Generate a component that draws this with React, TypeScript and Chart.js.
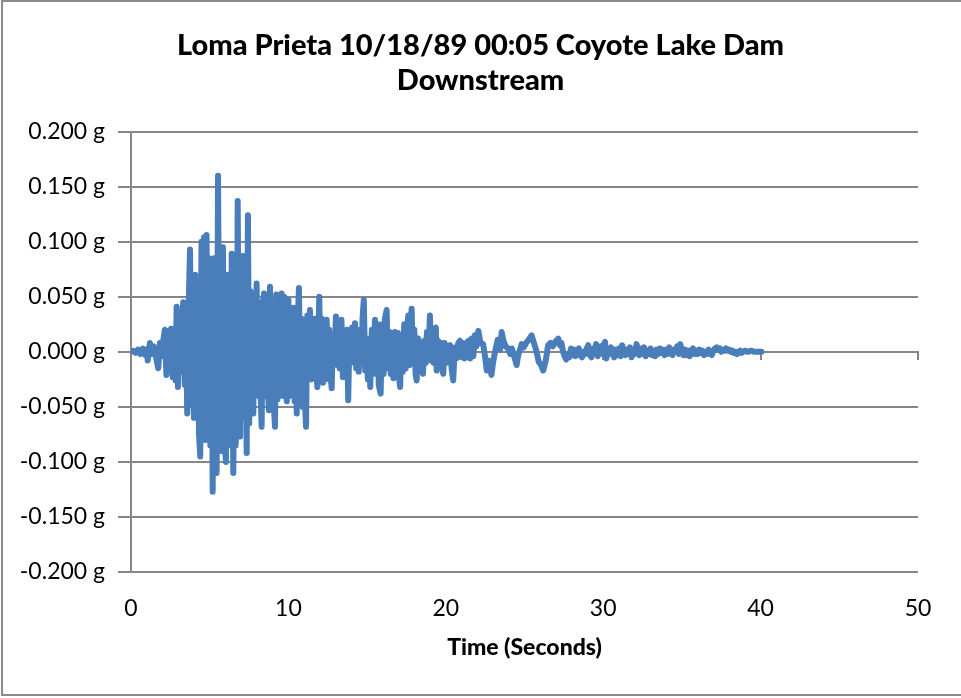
import React, { useEffect, useRef } from "react";
import { Chart, registerables } from "chart.js";

Chart.register(...registerables);

const titleLines = ["Loma Prieta 10/18/89 00:05 Coyote Lake Dam", "Downstream"];
const xAxisTitle = "Time (Seconds)";
const xTicks = [0, 10, 20, 30, 40, 50];
const yTicks = [-0.2, -0.15, -0.1, -0.05, 0, 0.05, 0.1, 0.15, 0.2];

// time (s)
const timeSec = [
  0, 0.15, 0.3, 0.45, 0.6, 0.75, 0.9,
  1.0, 1.06, 1.2, 1.32, 1.45, 1.58, 1.73, 1.84, 1.95,
  2.05, 2.15, 2.25, 2.35, 2.45, 2.55, 2.65, 2.75, 2.83, 2.9, 2.98,
  3.08, 3.18, 3.25, 3.32, 3.42, 3.5, 3.57, 3.66, 3.75, 3.84, 3.92,
  4.0, 4.08, 4.16, 4.24, 4.32, 4.4, 4.48, 4.56, 4.64, 4.72, 4.8, 4.88, 4.96,
  5.04, 5.12, 5.19, 5.27, 5.35, 5.44, 5.53, 5.62, 5.7, 5.77, 5.84, 5.92,
  6.03, 6.11, 6.19, 6.27, 6.34, 6.4, 6.5, 6.58, 6.65, 6.72, 6.78, 6.86, 6.93,
  7.01, 7.1, 7.18, 7.27, 7.35, 7.43, 7.51, 7.59, 7.67, 7.77, 7.85, 7.92, 7.98,
  8.06, 8.14, 8.22, 8.3, 8.38, 8.45, 8.53, 8.61, 8.69, 8.76, 8.83, 8.91, 8.98,
  9.06, 9.15, 9.23, 9.31, 9.39, 9.47, 9.57, 9.65, 9.73, 9.81, 9.9,
  10.0, 10.08, 10.16, 10.24, 10.32, 10.4, 10.47, 10.53, 10.6, 10.67, 10.75, 10.83, 10.91, 10.98,
  11.05, 11.12, 11.2, 11.28, 11.37, 11.45, 11.53, 11.61, 11.69, 11.77, 11.84, 11.96,
  12.04, 12.12, 12.2, 12.28, 12.36, 12.43, 12.51, 12.59, 12.67, 12.75, 12.83, 12.91,
  13.02, 13.1, 13.18, 13.26, 13.37, 13.46, 13.55, 13.63, 13.72, 13.8, 13.88, 13.96,
  14.05, 14.14, 14.23, 14.31, 14.39, 14.47, 14.55, 14.63, 14.71, 14.79, 14.88, 14.96,
  15.05, 15.13, 15.2, 15.3, 15.4, 15.5, 15.58, 15.66, 15.74, 15.86, 15.95,
  16.05, 16.13, 16.24, 16.33, 16.42, 16.5, 16.58, 16.67, 16.76, 16.84, 16.96,
  17.04, 17.1, 17.18, 17.27, 17.36, 17.45, 17.53, 17.62, 17.7, 17.76, 17.83, 17.92,
  18.0, 18.08, 18.15, 18.24, 18.32, 18.4, 18.48, 18.55, 18.63, 18.72, 18.8, 18.9, 18.99,
  19.08, 19.16, 19.24, 19.3, 19.37, 19.42, 19.5, 19.6, 19.7, 19.78, 19.84, 19.93,
  20.05, 20.15, 20.27, 20.37, 20.47, 20.57, 20.68, 20.79, 20.9,
  21.0, 21.1, 21.2, 21.3, 21.43, 21.55, 21.65, 21.75, 21.85, 21.95,
  22.07, 22.2, 22.37, 22.5, 22.6, 22.72, 22.9,
  23.0, 23.13, 23.3, 23.45, 23.55, 23.66, 23.8, 23.95,
  24.1, 24.2, 24.3, 24.5, 24.6, 24.72, 24.82, 24.95,
  25.1, 25.27, 25.45, 25.6, 25.77, 25.9,
  26.05, 26.19, 26.35, 26.5, 26.65, 26.8, 26.95,
  27.15, 27.25, 27.35, 27.45, 27.55, 27.65, 27.75, 27.85, 27.95,
  28.05, 28.15, 28.25, 28.35, 28.45, 28.55, 28.65, 28.75, 28.85, 28.95,
  29.05, 29.15, 29.25, 29.35, 29.45, 29.55, 29.65, 29.75, 29.85, 29.95,
  30.05, 30.12, 30.2, 30.3, 30.4, 30.5, 30.6, 30.7, 30.8, 30.9,
  31.0, 31.1, 31.2, 31.3, 31.4, 31.5, 31.6, 31.7, 31.8, 31.9,
  32.0, 32.12, 32.2, 32.3, 32.4, 32.5, 32.6, 32.7, 32.8, 32.9,
  33.0, 33.1, 33.2, 33.3, 33.4, 33.5, 33.6, 33.7, 33.8, 33.9,
  34.0, 34.1, 34.2, 34.3, 34.4, 34.5, 34.6, 34.7, 34.8, 34.9,
  35.0, 35.1, 35.2, 35.3, 35.4, 35.5, 35.6, 35.7, 35.8, 35.9,
  36.0, 36.1, 36.2, 36.3, 36.4, 36.5, 36.6, 36.7, 36.8, 36.9,
  37.0, 37.1, 37.2, 37.3, 37.4, 37.5, 37.6, 37.7, 37.8, 37.9,
  38.0, 38.1, 38.2, 38.3, 38.4, 38.5, 38.6, 38.7, 38.8, 38.9,
  39.0, 39.2, 39.4, 39.6, 39.8, 40.05,
];

// acceleration (g)
const accelG = [
  0, 0.001, -0.001, 0.002, -0.002, 0.003, -0.003,
  0.002, -0.008, 0.008, -0.002, 0.005, -0.004, -0.015, 0.008, -0.004,
  0.010, 0.020, -0.021, 0.019, -0.015, 0.021, -0.023, 0.012, -0.026, 0.041, -0.032,
  0.030, -0.018, 0.028, 0.045, -0.030, 0.025, -0.056, 0.040, 0.093, -0.048, 0.045,
  -0.060, 0.070, -0.040, 0.062, -0.075, -0.095, 0.100, -0.060, 0.104, -0.080, 0.106, -0.070, 0.085,
  -0.085, 0.070, -0.127, 0.085, -0.060, -0.110, 0.160, -0.065, 0.080, -0.090, 0.095, -0.070,
  -0.100, 0.070, -0.085, 0.060, -0.070, 0.089, -0.110, 0.065, -0.085, -0.040, 0.137, -0.060, -0.077,
  0.060, 0.087, -0.060, 0.050, -0.092, 0.124, -0.065, 0.055, -0.045, -0.056, 0.040, -0.030, 0.062,
  -0.040, 0.045, -0.030, -0.068, 0.040, 0.053, -0.040, 0.035, -0.030, -0.053, 0.059, -0.040, 0.030,
  -0.045, -0.068, 0.052, -0.043, 0.040, -0.035, 0.053, -0.040, 0.050, -0.030, -0.045,
  0.047, -0.040, 0.035, -0.030, 0.040, -0.045, 0.020, -0.056, 0.030, 0.058, -0.040, 0.030, -0.050, 0.025,
  -0.045, -0.068, 0.033, -0.020, 0.038, -0.025, 0.025, -0.020, 0.030, -0.015, -0.032, 0.050,
  -0.020, 0.030, -0.028, 0.015, -0.025, 0.029, -0.015, 0.020, -0.020, -0.033, 0.015, -0.010,
  0.032, -0.012, 0.022, -0.015, 0.029, -0.023, 0.015, -0.018, 0.020, -0.044, 0.015, -0.010,
  0.022, -0.008, 0.026, -0.015, 0.020, -0.018, 0.015, -0.010, 0.030, 0.047, -0.017, 0.012,
  -0.025, 0.010, -0.032, 0.020, -0.020, 0.029, -0.015, 0.025, -0.030, -0.038, 0.025,
  -0.020, 0.030, 0.038, -0.015, 0.018, -0.020, 0.012, -0.024, 0.018, -0.015, 0.017,
  -0.025, -0.032, 0.015, -0.018, 0.025, -0.015, 0.020, 0.033, -0.012, 0.025, 0.039, -0.010,
  0.020, -0.020, -0.026, 0.012, -0.012, 0.008, -0.015, -0.020, 0.010, -0.010, 0.018, -0.005, 0.033,
  -0.008, 0.020, -0.010, 0.015, 0.022, -0.017, 0.010, -0.012, 0.008, -0.015, -0.020, 0.008,
  -0.010, 0.005, 0.006, -0.015, -0.026, 0.004, -0.006, 0.008, 0.010,
  -0.005, 0.008, -0.006, 0.006, 0.010, -0.006, 0.012, -0.004, 0.015, 0.005,
  0.019, 0.008, 0.007, -0.005, -0.017, -0.008, -0.021,
  -0.010, 0.000, 0.011, 0.002, 0.018, 0.010, 0.005, 0.003,
  -0.002, 0.003, -0.002, -0.012, -0.003, 0.002, 0.007, 0.004,
  0.008, 0.011, 0.015, 0.008, 0.000, -0.009,
  -0.012, -0.017, -0.008, 0.006, 0.008, 0.005, 0.009,
  0.012, 0.006, 0.008, 0.000, -0.004, -0.007, -0.002, -0.005, 0.003,
  -0.003, 0.002, -0.004, 0.001, 0.003, -0.003, -0.005, 0.000, -0.002, 0.003,
  0.006, -0.003, -0.005, 0.003, 0.001, 0.007, -0.004, 0.002, 0.005, -0.002,
  0.007, 0.009, -0.006, 0.002, -0.002, 0.004, 0.000, -0.005, 0.002, -0.003,
  0.003, -0.004, 0.006, 0.001, -0.003, 0.002, -0.002, 0.004, -0.005, 0.001,
  -0.002, 0.007, 0.002, -0.003, 0.003, -0.002, 0.004, -0.004, 0.001, -0.002,
  0.003, -0.003, 0.001, -0.004, 0.002, -0.002, 0.003, -0.001, 0.002, -0.003,
  0.002, -0.002, 0.004, -0.001, -0.003, 0.002, 0.001, 0.005, -0.002, 0.007,
  0.001, -0.003, 0.002, -0.003, 0.001, -0.004, 0.001, 0.003, -0.002, 0.001,
  -0.002, 0.002, -0.001, 0.001, -0.003, 0.000, -0.002, 0.002, -0.001, -0.003,
  0.001, 0.003, 0.004, 0.002, 0.003, 0.000, 0.002, 0.001, 0.003, 0.001,
  0.002, 0.000, 0.001, -0.001, 0.000, -0.002, 0.000, 0.001, -0.001, 0.000,
  0.001, 0.000, 0.001, 0.000, 0.000, 0.000,
];

const GRID = "#868686";
const LINE = "#4A7EBB";
const FONT = "Lato, 'Open Sans', sans-serif";

export default function App() {
  const ref = useRef<HTMLCanvasElement | null>(null);

  useEffect(() => {
    if (!ref.current) return;
    const n = Math.min(timeSec.length, accelG.length);
    const pts = [] as { x: number; y: number }[];
    for (let i = 0; i < n; i++) pts.push({ x: timeSec[i], y: accelG[i] });

    const chart = new Chart(ref.current, {
      type: "line",
      data: {
        datasets: [
          {
            data: pts,
            borderColor: LINE,
            borderWidth: 6,
            pointRadius: 0,
            tension: 0,
            borderJoinStyle: "round",
            borderCapStyle: "round",
            xAxisID: "x",
            yAxisID: "y",
          },
        ],
      },
      options: {
        animation: false,
        responsive: false,
        devicePixelRatio: 1,
        layout: { padding: 0 },
        plugins: {
          legend: { display: false },
          tooltip: { enabled: false },
          title: {
            display: true,
            text: titleLines,
            color: "#000",
            font: { family: FONT, size: 29, weight: "900", lineHeight: 1.2 },
            padding: { top: 28, bottom: 34 },
          },
        },
        scales: {
          x: {
            type: "linear",
            position: "bottom",
            min: 0,
            max: 50,
            afterBuildTicks: (s: any) => {
              s.ticks = xTicks.map((v) => ({ value: v }));
            },
            ticks: { color: "#000", font: { family: FONT, size: 23 }, padding: 23, maxRotation: 0 },
            grid: { display: false, drawTicks: false },
            border: { display: false },
            title: {
              display: true,
              text: xAxisTitle,
              color: "#000",
              font: { family: FONT, size: 23, weight: "900" },
              padding: { top: 0, bottom: 37 },
            },
            afterFit: (s: any) => {
              s.height = 126;
            },
          },
          x0: {
            type: "linear",
            axis: "x",
            position: { y: 0 },
            min: 0,
            max: 50,
            afterBuildTicks: (s: any) => {
              s.ticks = xTicks.map((v) => ({ value: v }));
            },
            ticks: { display: false },
            grid: { drawOnChartArea: false, drawTicks: true, tickLength: 7, color: GRID, lineWidth: 2 },
            border: { display: true, color: GRID, width: 2 },
          },
          y: {
            type: "linear",
            min: -0.2,
            max: 0.2,
            afterBuildTicks: (s: any) => {
              s.ticks = yTicks.map((v) => ({ value: v }));
            },
            ticks: {
              color: "#000",
              font: { family: FONT, size: 23 },
              padding: 13,
              callback: (v: any) => {
                const num = Math.abs(Number(v)) < 1e-9 ? 0 : Number(v);
                return num.toFixed(3) + " g";
              },
            },
            grid: { color: GRID, lineWidth: 2, tickLength: 13 },
            border: { display: true, color: GRID, width: 2 },
            afterFit: (s: any) => {
              s.width = 131;
            },
          },
          yR: {
            type: "linear",
            position: "right",
            min: -0.2,
            max: 0.2,
            ticks: { display: false },
            grid: { display: false, drawTicks: false },
            border: { display: false },
            afterFit: (s: any) => {
              s.width = 43;
            },
          },
        },
      } as any,
    });
    return () => chart.destroy();
  }, []);

  return (
    <div style={{ position: "fixed", left: 0, top: 0, width: 961, height: 698, background: "#fff", overflow: "hidden" }}>
      <canvas ref={ref} width={961} height={698} style={{ position: "absolute", left: 0, top: 0 }} />
      <div
        style={{
          position: "absolute",
          left: 1,
          top: 0,
          width: 990,
          height: 692,
          borderLeft: "2px solid #8c8c8c",
          borderTop: "2px solid #8c8c8c",
          borderBottom: "2px solid #8c8c8c",
          pointerEvents: "none",
        }}
      />
    </div>
  );
}
